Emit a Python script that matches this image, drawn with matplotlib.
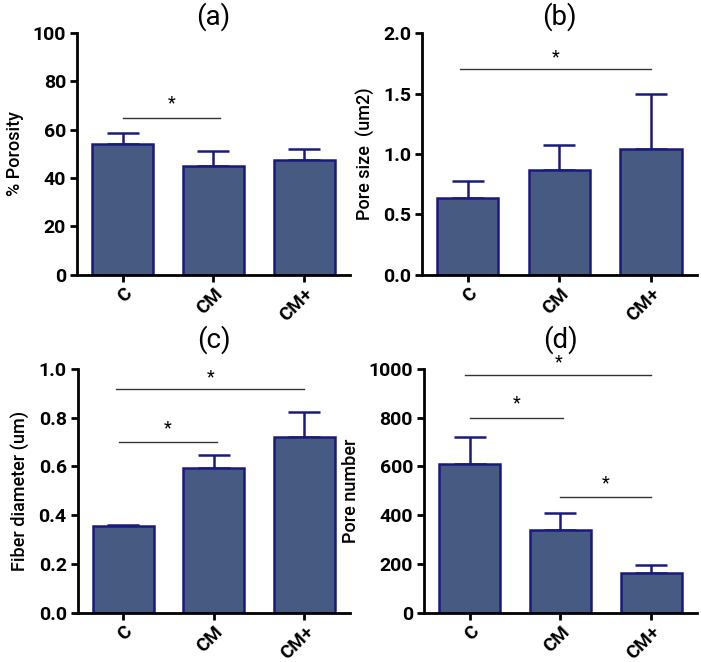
import matplotlib
matplotlib.use("Agg")
import matplotlib.pyplot as plt
import numpy as np

plt.rcParams['font.family'] = ['Roboto', 'DejaVu Sans']

categories = ["C", "CM", "CM+"]

porosity_mean = [54.2, 45.0, 47.5]
porosity_err = [4.4, 6.0, 4.6]

pore_size_mean = [0.636, 0.868, 1.043]
pore_size_err = [0.137, 0.206, 0.455]

fiber_mean = [0.356, 0.594, 0.722]
fiber_err = [0.003, 0.053, 0.102]

pore_num_mean = [611, 340, 163]
pore_num_err = [111, 68, 32]

panels = [
    dict(title="(a)", ylabel="% Porosity", mean=porosity_mean, err=porosity_err,
         ylim=(0, 100), ticks=[0, 20, 40, 60, 80, 100], fmt="{:.0f}", pad=6,
         sig=[(0, 1.07, 65.0, 71.0)]),
    dict(title="(b)", ylabel="Pore size  (um2)", mean=pore_size_mean, err=pore_size_err,
         ylim=(0, 2.0), ticks=[0, 0.5, 1.0, 1.5, 2.0], fmt="{:.1f}", pad=6,
         sig=[(-0.09, 2.0, 1.70, 1.80)]),
    dict(title="(c)", ylabel="Fiber diameter (um)", mean=fiber_mean, err=fiber_err,
         ylim=(0, 1.0), ticks=[0, 0.2, 0.4, 0.6, 0.8, 1.0], fmt="{:.1f}", pad=15,
         sig=[(-0.08, 2.0, 0.915, 0.965), (-0.05, 1.03, 0.70, 0.755)]),
    dict(title="(d)", ylabel="Pore number", mean=pore_num_mean, err=pore_num_err,
         ylim=(0, 1000), ticks=[0, 200, 400, 600, 800, 1000], fmt="{:.0f}", pad=15,
         sig=[(-0.05, 2.0, 975, 1028), (0, 1.03, 800, 858), (1.0, 2.0, 475, 530)]),
]

positions = [
    [0.110, 0.585, 0.389, 0.365],
    [0.602, 0.585, 0.392, 0.365],
    [0.111, 0.074, 0.388, 0.369],
    [0.605, 0.074, 0.389, 0.369],
]

bar_color = "#465a82"
edge_color = "#1a1a7e"

fig = plt.figure(figsize=(7.01, 6.62), dpi=100)
x = np.arange(len(categories))
for p, pos in zip(panels, positions):
    ax = fig.add_axes(pos)
    ax.bar(x, p["mean"], width=0.67, color=bar_color, edgecolor=edge_color, linewidth=1.8, zorder=2)
    ax.errorbar(x, p["mean"], yerr=[np.zeros(3), p["err"]], fmt="none", ecolor=edge_color,
                elinewidth=1.8, capsize=11.5, capthick=1.8, zorder=1)
    ax.set_xlim(-0.5, 2.5)
    ax.set_ylim(*p["ylim"])
    ax.set_yticks(p["ticks"])
    ax.set_yticklabels([p["fmt"].format(t) for t in p["ticks"]], fontsize=14, fontweight="bold")
    ax.set_xticks(x)
    ax.set_xticklabels(categories, fontsize=13.5, fontweight="bold", rotation=45, ha="right",
                       rotation_mode="anchor")
    ax.spines["top"].set_visible(False)
    ax.spines["right"].set_visible(False)
    ax.spines["left"].set_linewidth(2)
    ax.spines["bottom"].set_linewidth(2)
    ax.tick_params(axis="y", width=2, length=5, direction="out", pad=3)
    ax.tick_params(axis="x", width=2, length=5, direction="out", pad=2)
    ax.set_ylabel(p["ylabel"], fontsize=13, fontweight="medium", labelpad=6)
    ax.set_title(p["title"], fontsize=20, pad=p["pad"])
    for x0, x1, yl, ys in p["sig"]:
        ax.plot([x0, x1], [yl, yl], color="#333333", linewidth=1.0, clip_on=False)
        ax.text((x0 + x1) / 2, ys, "*", ha="center", va="center", fontsize=13, clip_on=False)

fig.savefig("out.png", dpi=100)
